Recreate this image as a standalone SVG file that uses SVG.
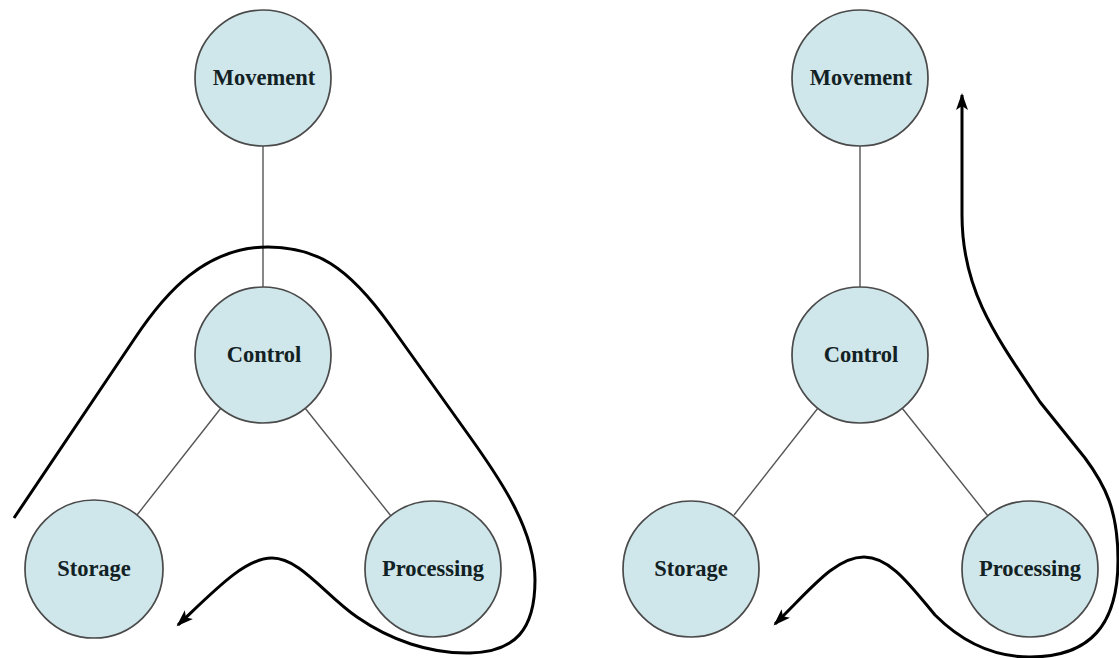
<svg xmlns="http://www.w3.org/2000/svg" width="1119" height="658" viewBox="0 0 1119 658">
  <style>
    .node { fill: #cfe6ea; stroke: #4a4a4a; stroke-width: 1.7; }
    .lbl { font-family: "Liberation Serif", "Times New Roman", serif; font-weight: bold; font-size: 22.5px; fill: #122124; text-anchor: middle; }
    .link { stroke: #555; stroke-width: 1.4; fill: none; }
    .flow { stroke: #000; stroke-width: 3; fill: none; stroke-linejoin: round; }
  </style>
  <defs>
    <marker id="ah" markerUnits="userSpaceOnUse" markerWidth="20" markerHeight="14" refX="15" refY="6" orient="auto-start-reverse" viewBox="0 0 20 14">
      <path d="M0,0 L17,6 L0,12 L4,6 z" fill="#000"/>
    </marker>
  </defs>
  <rect x="0" y="0" width="1119" height="658" fill="#fff"/>

  <g id="connectors">
    <!-- left panel links -->
    <line class="link" x1="263" y1="146" x2="263" y2="287"/>
    <line class="link" x1="221" y1="408" x2="137" y2="515"/>
    <line class="link" x1="305" y1="408" x2="391" y2="516"/>
    <!-- right panel links -->
    <line class="link" x1="860" y1="146" x2="860" y2="287"/>
    <line class="link" x1="818" y1="408" x2="734" y2="515"/>
    <line class="link" x1="902" y1="408" x2="988" y2="516"/>
    <!-- left flow loop -->
    <path class="flow" marker-end="url(#ah)" d="M14 518 L135 338 C165 293 205 247 268 247 C315 247 347 265 390 325 L470 437 C500 479 535 530 535 580 C535 630 515 652 470 653 C430 654 390 640 357 617 C325 595 300 558 272 558 C245 558 215 590 178 625"/>
    <!-- right flow path -->
    <path class="flow" marker-start="url(#ah)" marker-end="url(#ah)" d="M962 95 L962 215 C962 290 995 335 1040 402 L1085 458 C1105 485 1118 510 1118 560 C1118 625 1090 657 1030 657 C990 657 960 640 935 615 C910 585 890 557 864 557 C835 557 810 590 775 624"/>
  </g>

  <g id="movement-left">
    <circle class="node" cx="263" cy="78" r="68"/>
    <text class="lbl" x="264" y="85">Movement</text>
  </g>
  <g id="control-left">
    <circle class="node" cx="263" cy="355" r="68"/>
    <text class="lbl" x="264" y="362">Control</text>
  </g>
  <g id="storage-left">
    <circle class="node" cx="94" cy="569" r="69"/>
    <text class="lbl" x="94" y="576">Storage</text>
  </g>
  <g id="processing-left">
    <circle class="node" cx="433" cy="569" r="68"/>
    <text class="lbl" x="433" y="576">Processing</text>
  </g>

  <g id="movement-right">
    <circle class="node" cx="860" cy="78" r="68"/>
    <text class="lbl" x="861" y="85">Movement</text>
  </g>
  <g id="control-right">
    <circle class="node" cx="860" cy="355" r="68"/>
    <text class="lbl" x="861" y="362">Control</text>
  </g>
  <g id="storage-right">
    <circle class="node" cx="691" cy="569" r="68"/>
    <text class="lbl" x="691" y="576">Storage</text>
  </g>
  <g id="processing-right">
    <circle class="node" cx="1030" cy="569" r="68"/>
    <text class="lbl" x="1030" y="576">Processing</text>
  </g>
</svg>
